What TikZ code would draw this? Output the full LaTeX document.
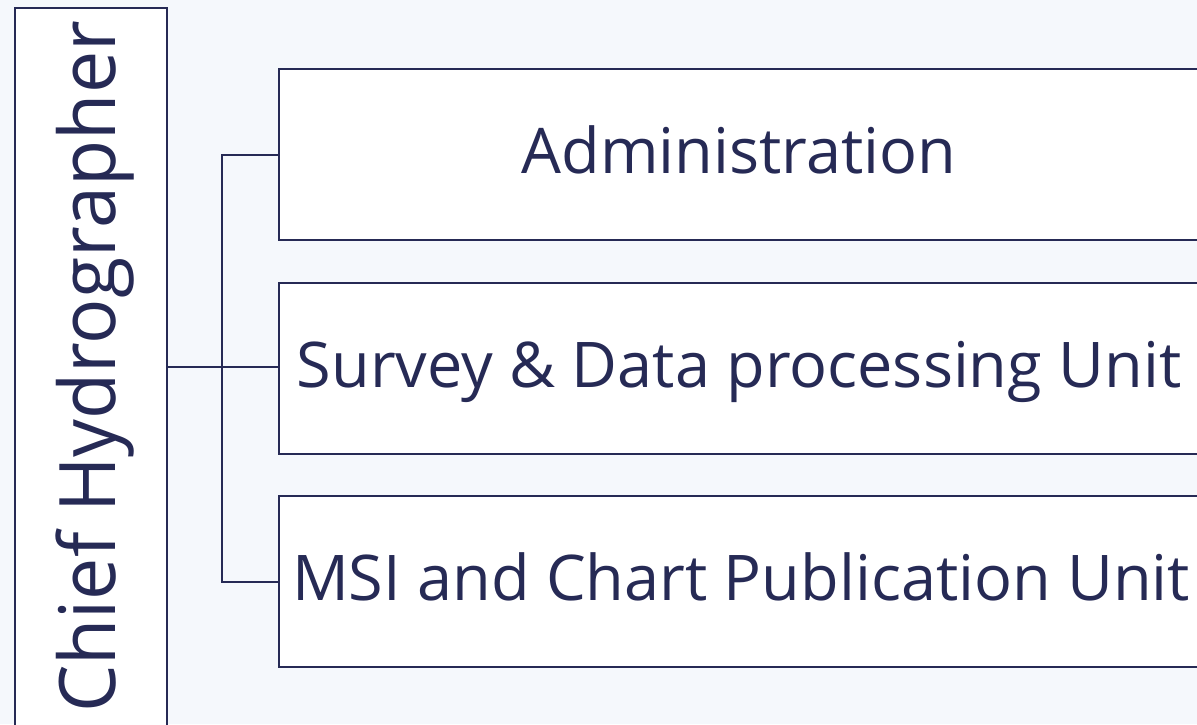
\documentclass[tikz,border=0pt]{standalone}
\usepackage{fontspec}
\setmainfont{Open Sans}
\definecolor{navy}{HTML}{262A55}
\definecolor{bgc}{HTML}{F5F8FC}
\tikzset{
  unit/.style={draw=navy, line width=2.2pt, fill=white, rectangle, minimum width=922pt, minimum height=171pt, inner sep=0pt, anchor=north west},
  lbl/.style={text=navy, font=\fontsize{63}{66}\selectfont, inner sep=0pt, anchor=base},
  link/.style={draw=navy, line width=2.2pt}
}
\begin{document}
\begin{tikzpicture}[x=1pt,y=-1pt]
\useasboundingbox (0,0) rectangle (1197,724);
\clip (0,0) rectangle (1197,724);
\fill[bgc] (0,0) rectangle (1197,724);
\node[unit, minimum width=152pt, minimum height=760pt] (chief) at (14,7) {};
\node[lbl, rotate=90, font=\fontsize{78}{80}\selectfont] (chieft) at (115,367) {\scalebox{0.965}[1]{Chief Hydrographer}};
\node[unit] (adm) at (278,68) {};
\node[unit] (sur) at (278,282) {};
\node[unit] (msi) at (278,495) {};
\node[lbl] (admt) at (739,173) {Administration};
\node[lbl] (surt) at (739,387) {Survey \& Data processing Unit};
\node[lbl] (msit) at (741,600) {MSI and Chart Publication Unit};
\coordinate (j) at (222,367);
\draw[link] (chief.east |- j) -- (j);
\draw[link] (adm.west) -| (j) |- (msi.west);
\draw[link] (j) -- (j -| sur.west);
\end{tikzpicture}
\end{document}
